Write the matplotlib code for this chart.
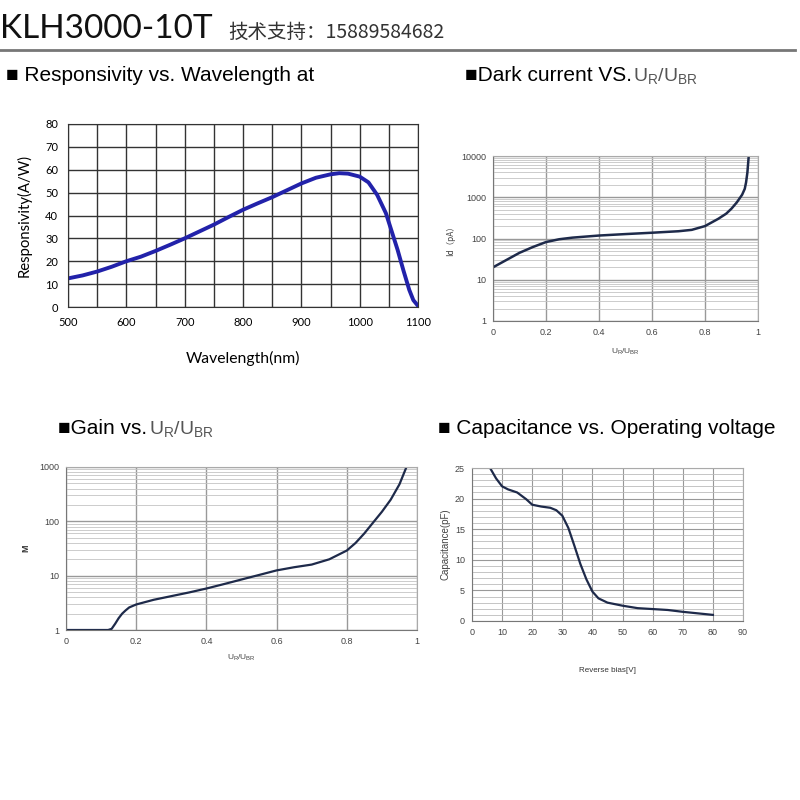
import numpy as np
import matplotlib.pyplot as plt
from matplotlib.ticker import LogLocator, NullFormatter, FixedLocator

plt.rcParams['font.family'] = ['Liberation Sans', 'DejaVu Sans']

# responsivity vs wavelength
wl = [500, 525, 550, 575, 600, 625, 650, 675, 700, 725, 750, 775, 800, 825, 850, 875,
      900, 925, 950, 965, 980, 1000, 1015, 1030, 1045, 1055, 1065, 1075, 1085, 1092, 1100]
resp = [12.5, 13.8, 15.5, 17.6, 20.0, 22.0, 24.5, 27.2, 30.0, 33.0, 36.0, 39.3, 42.5, 45.3, 48.0, 51.0,
        54.0, 56.5, 58.0, 58.5, 58.3, 57.0, 54.5, 49.0, 41.0, 33.0, 25.0, 16.0, 7.5, 3.0, 0.5]

# dark current vs UR/UBR
dc_x = [0.0, 0.05, 0.1, 0.15, 0.2, 0.25, 0.3, 0.4, 0.5, 0.6, 0.7, 0.75, 0.8,
        0.85, 0.88, 0.9, 0.92, 0.94, 0.95, 0.955, 0.96, 0.965]
dc_y = [20, 30, 45, 62, 82, 96, 105, 118, 128, 138, 150, 162, 200,
        300, 400, 530, 750, 1150, 1600, 2300, 4000, 10000]

# gain vs UR/UBR
g_x = [0.0, 0.05, 0.1, 0.12, 0.13, 0.14, 0.15, 0.16, 0.17, 0.18, 0.2, 0.25, 0.3, 0.35, 0.4, 0.45,
       0.5, 0.55, 0.6, 0.65, 0.7, 0.75, 0.8, 0.825, 0.85, 0.875, 0.9, 0.925, 0.95, 0.97]
g_y = [1.0, 1.0, 1.0, 1.0, 1.05, 1.3, 1.65, 2.0, 2.3, 2.6, 2.95, 3.6, 4.2, 4.9, 5.8, 7.0,
       8.5, 10.3, 12.5, 14.3, 16.0, 20.0, 29.0, 40.0, 60.0, 95.0, 150.0, 250.0, 480.0, 1000.0]

# capacitance vs reverse bias
cv = [6, 8, 10, 12, 15, 18, 20, 23, 26, 28, 30, 32, 34, 36, 38, 40, 42, 45, 50, 55, 60, 65, 70, 75, 80]
cap = [25.0, 23.3, 22.0, 21.5, 21.0, 19.9, 19.0, 18.7, 18.5, 18.1, 17.2, 15.2, 12.3, 9.3, 6.8, 4.8,
       3.7, 3.0, 2.5, 2.1, 1.95, 1.8, 1.5, 1.25, 1.0]

fig = plt.figure(figsize=(8, 8), dpi=100)

# header
fig.text(0.0, 0.953, 'KLH3000-10T', fontsize=24, family=['Lato', 'DejaVu Sans'], va='baseline', color='#111111')
fig.text(0.285, 0.953, '技术支持：15889584682', fontsize=14,
         family=['Noto Sans CJK SC', 'DejaVu Sans'], va='baseline', color='#333333')
fig.add_artist(plt.Line2D([0, 0.994], [0.938, 0.938], color='#777777', lw=2))

# section titles
ur = r'U$\mathregular{_R}$/U$\mathregular{_{BR}}$'
fig.text(0.007, 0.899, '■ Responsivity vs. Wavelength at', fontsize=15, va='baseline')
fig.text(0.581, 0.899, '■Dark current VS.', fontsize=15, va='baseline')
fig.text(0.791, 0.899, ur, fontsize=14, va='baseline', color='#555555')
fig.text(0.073, 0.457, '■Gain vs.', fontsize=15, va='baseline')
fig.text(0.186, 0.457, ur, fontsize=14, va='baseline', color='#555555')
fig.text(0.547, 0.457, '■ Capacitance vs. Operating voltage', fontsize=15, va='baseline')

# top-left: responsivity
ax1 = fig.add_axes([0.085, 0.61625, 0.4375, 0.22875])
ax1.plot(wl, resp, color='#2222aa', lw=2.8, solid_capstyle='round')
ax1.set_xlim(500, 1100)
ax1.set_ylim(0, 80)
ax1.set_xticks(range(500, 1101, 100))
ax1.set_xticks(range(550, 1100, 100), minor=True)
ax1.set_yticks(range(0, 81, 10))
ax1.grid(True, which='both', color='#333333', lw=1.0)
ax1.tick_params(which='both', length=0, labelsize=8, pad=7)
for lab in ax1.get_xticklabels() + ax1.get_yticklabels():
    lab.set_family(['Lato', 'DejaVu Sans'])
for s in ax1.spines.values():
    s.set_color('#333333')
ax1.set_xlabel('Wavelength(nm)', fontsize=11.3, family=['Lato', 'DejaVu Sans'], labelpad=17)
ax1.set_ylabel('Responsivity(A/W)', fontsize=10.7, family=['Lato', 'DejaVu Sans'], labelpad=10)


def small_style(ax):
    for s in ax.spines.values():
        s.set_color('#aaaaaa')
        s.set_linewidth(0.8)
    ax.spines['left'].set_color('#777777')
    ax.spines['bottom'].set_color('#777777')
    ax.tick_params(which='both', length=0, labelsize=6.5, colors='#444444', pad=5)


# top-right: dark current
ax2 = fig.add_axes([0.61625, 0.59875, 0.33125, 0.20625])
ax2.set_yscale('log')
ax2.plot(dc_x, dc_y, color='#1e2a4a', lw=1.8)
ax2.set_xlim(0, 1)
ax2.set_ylim(1, 10000)
ax2.set_xticks([0, 0.2, 0.4, 0.6, 0.8, 1])
ax2.set_xticklabels(['0', '0.2', '0.4', '0.6', '0.8', '1'])
ax2.set_yticks([1, 10, 100, 1000, 10000])
ax2.set_yticklabels(['1', '10', '100', '1000', '10000'])
ax2.yaxis.set_minor_locator(LogLocator(base=10, subs=np.arange(2, 10)))
ax2.yaxis.set_minor_formatter(NullFormatter())
ax2.grid(True, which='major', color='#999999', lw=1.0)
ax2.grid(True, which='minor', axis='y', color='#c4c4c4', lw=0.6)
small_style(ax2)
ax2.set_ylabel('Id（pA）', fontsize=6, family=['Noto Sans CJK SC', 'DejaVu Sans'], color='#444444', labelpad=4)
ax2.set_xlabel(ur, fontsize=6, color='#444444', labelpad=7)

# bottom-left: gain
ax3 = fig.add_axes([0.0825, 0.2125, 0.43875, 0.20375])
ax3.set_yscale('log')
ax3.plot(g_x, g_y, color='#1e2a4a', lw=1.6)
ax3.set_xlim(0, 1)
ax3.set_ylim(1, 1000)
ax3.set_xticks([0, 0.2, 0.4, 0.6, 0.8, 1])
ax3.set_xticklabels(['0', '0.2', '0.4', '0.6', '0.8', '1'])
ax3.set_yticks([1, 10, 100, 1000])
ax3.set_yticklabels(['1', '10', '100', '1000'])
ax3.yaxis.set_minor_locator(LogLocator(base=10, subs=np.arange(2, 10)))
ax3.yaxis.set_minor_formatter(NullFormatter())
ax3.grid(True, which='major', color='#999999', lw=1.0)
ax3.grid(True, which='minor', axis='y', color='#c4c4c4', lw=0.6)
small_style(ax3)
ax3.set_ylabel('M', fontsize=6.5, color='#333333', labelpad=6, fontweight='bold')
ax3.set_xlabel(ur, fontsize=6, color='#444444', labelpad=5)

# bottom-right: capacitance
ax4 = fig.add_axes([0.59, 0.22375, 0.33875, 0.19125])
ax4.plot(cv, cap, color='#1e2a4a', lw=1.6)
ax4.set_xlim(0, 90)
ax4.set_ylim(0, 25)
ax4.set_xticks(range(0, 91, 10))
ax4.set_yticks(range(0, 26, 5))
ax4.yaxis.set_minor_locator(FixedLocator(range(0, 26)))
ax4.grid(True, which='major', color='#999999', lw=0.8)
ax4.grid(True, which='minor', axis='y', color='#bbbbbb', lw=0.6)
small_style(ax4)
ax4.set_ylabel('Capacitance(pF)', fontsize=7, color='#444444', labelpad=3)
ax4.set_xlabel('Reverse bias[V]', fontsize=5.8, color='#333333', labelpad=22)

fig.savefig('out.png', dpi=100, facecolor='white')
